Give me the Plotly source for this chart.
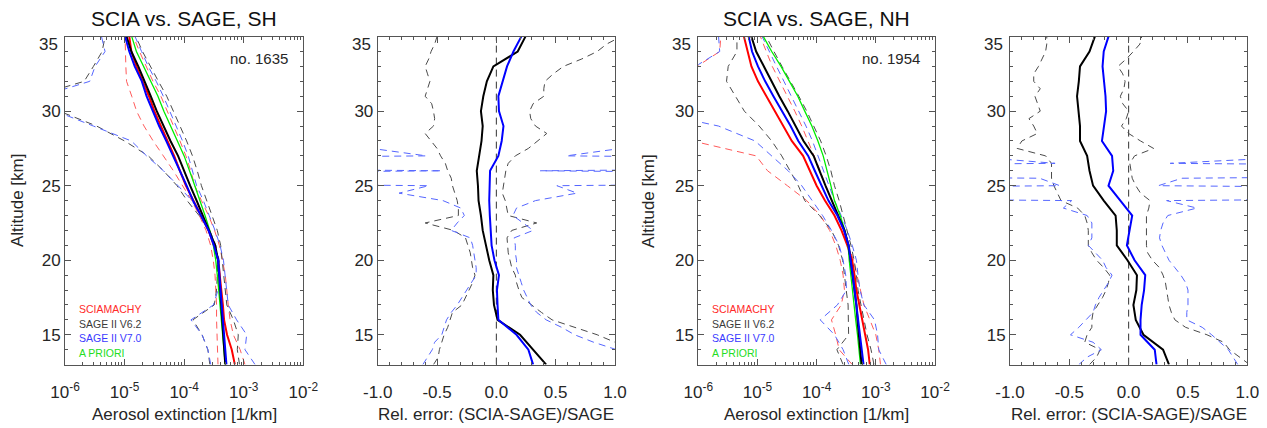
import plotly.graph_objects as go

# altitude grids [km]
ALT = [13, 14, 15, 16, 17, 18, 19, 20, 21, 22, 23, 24, 25, 26, 27, 28, 29, 30, 31, 32, 33, 34, 35]
ALT_H = [13.0, 13.5, 14.0, 14.5, 15.0, 15.5, 16.0, 16.5, 17.0, 17.5, 18.0, 18.5, 19.0, 19.5,
         20.0, 20.5, 21.0, 21.5, 22.0, 22.5, 23.0, 23.5, 24.0, 24.5, 25.0, 25.5, 26.0, 26.5,
         27.0, 27.5, 28.0, 28.5, 29.0, 29.5, 30.0, 30.5, 31.0, 31.5, 32.0, 32.5, 33.0, 33.5,
         34.0, 34.5, 35.0]

# ---------------- SH, profile no.1635 (extinction, 1/km) ----------------
sh_scia = [7.1e-4, 6.3e-4, 5.25e-4, 4.68e-4, 4.47e-4, 4.2e-4, 3.98e-4, 3.72e-4, 3.16e-4, 2.57e-4, 1.91e-4, 1.41e-4,
           1.07e-4, 8.5e-5, 6.8e-5, 5.25e-5, 4.07e-5, 3.16e-5, 2.57e-5, 2.04e-5, 1.58e-5, 1.3e-5, 1.2e-5]
sh_scia_lo = [3.7e-4, 3.6e-4, 3.5e-4, 3.5e-4, 3.5e-4, 3.4e-4, 3.3e-4, 3.08e-4, 2.78e-4, 2.33e-4, 1.8e-4, 1.34e-4,
              9.4e-5, 6.6e-5, 4.47e-5, 3.02e-5, 2.12e-5, 1.59e-5, 1.32e-5, 1.08e-5, 1.05e-5, 1.03e-5, 1.02e-5]
sh_scia_hi = [1.05e-3, 8.7e-4, 6.7e-4, 5.9e-4, 5.5e-4, 5.2e-4, 4.9e-4, 4.4e-4, 3.9e-4, 3.24e-4, 2.57e-4, 1.95e-4,
              1.51e-4, 1.29e-4, 1.07e-4, 8.5e-5, 6.6e-5, 5.25e-5, 4.07e-5, 3.0e-5, 2.3e-5, 1.78e-5, 1.41e-5]
sh_v62 = [4.9e-4, 4.7e-4, 4.57e-4, 4.37e-4, 4.2e-4, 4.07e-4, 3.89e-4, 3.72e-4, 3.31e-4, 2.63e-4, 2.09e-4, 1.62e-4,
          1.26e-4, 1.0e-4, 7.9e-5, 5.9e-5, 4.47e-5, 3.47e-5, 2.75e-5, 2.19e-5, 1.7e-5, 1.3e-5, 1.08e-5]
sh_v62_lo = [2.7e-4, 2.5e-4, 2.0e-4, 1.4e-4, 3.2e-4, 3.5e-4, 3.6e-4, 3.7e-4, 3.4e-4, 2.7e-4, 1.78e-4, 1.12e-4,
             7.6e-5, 4.5e-5, 2.5e-5, 1.0e-5, 3.4e-6, 8e-7, 3e-7, 2.1e-6, 3.0e-6, 4.2e-6, 4.7e-6]
sh_v62_hi = [8.5e-4, 7.8e-4, 8.1e-4, 6.7e-4, 5.2e-4, 4.9e-4, 4.7e-4, 4.4e-4, 4.1e-4, 3.6e-4, 2.95e-4, 2.4e-4,
             1.95e-4, 1.66e-4, 1.38e-4, 1.1e-4, 8.5e-5, 6.6e-5, 5.1e-5, 3.7e-5, 2.75e-5, 2.0e-5, 1.55e-5]
sh_v70 = [5.13e-4, 4.9e-4, 4.68e-4, 4.47e-4, 4.27e-4, 4.17e-4, 3.98e-4, 3.72e-4, 3.16e-4, 2.57e-4, 1.91e-4, 1.41e-4,
          1.1e-4, 8.5e-5, 6.6e-5, 5.0e-5, 3.8e-5, 2.95e-5, 2.34e-5, 1.95e-5, 1.48e-5, 1.2e-5, 1.02e-5]
sh_v70_lo = [2.8e-4, 2.5e-4, 2.0e-4, 1.3e-4, 3.1e-4, 3.7e-4, 4.0e-4, 3.9e-4, 3.3e-4, 2.7e-4, 1.95e-4, 1.35e-4,
             7.9e-5, 4.5e-5, 2.34e-5, 1.3e-5, 3.0e-6, 7e-7, 4e-7, 2.6e-6, 3.2e-6, 4.7e-6, 4.1e-6]
sh_v70_hi = [1.55e-3, 1.05e-3, 1.12e-3, 7.6e-4, 5.5e-4, 5.2e-4, 4.9e-4, 4.57e-4, 4.0e-4, 3.3e-4, 2.63e-4, 2.1e-4,
             1.62e-4, 1.38e-4, 1.17e-4, 9.4e-5, 7.4e-5, 5.75e-5, 4.47e-5, 3.4e-5, 2.5e-5, 1.93e-5, 1.5e-5]
sh_apriori = [4.9e-4, 4.68e-4, 4.4e-4, 4.17e-4, 3.98e-4, 3.8e-4, 3.6e-4, 3.39e-4, 3.09e-4, 2.69e-4, 2.24e-4, 1.86e-4,
              1.51e-4, 1.23e-4, 1.0e-4, 7.7e-5, 5.9e-5, 4.57e-5, 3.63e-5, 2.75e-5, 2.04e-5, 1.58e-5, 1.32e-5]

# relative differences (SCIA-SAGE)/SAGE, SH
sh_rel_v62 = [0.42, 0.31, 0.20, 0.01, -0.02, -0.03, -0.025, -0.06, -0.09, -0.115, -0.13, -0.15,
              -0.155, -0.165, -0.145, -0.125, -0.115, -0.13, -0.11, -0.08, -0.025, 0.18, 0.245]
sh_rel_v70 = [0.31, 0.27, 0.17, 0.017, 0.01, 0.005, 0.022, -0.016, -0.04, -0.05, -0.055, -0.06,
              -0.058, -0.053, 0.017, 0.045, 0.06, 0.022, 0.017, 0.055, 0.09, 0.144, 0.21]
sh_rel_v62_lo = [-0.53, -0.49, -0.48, -0.46, -0.44, -0.41, -0.39, -0.37, -0.29, -0.26, -0.235, -0.20, -0.18, -0.20,
                 -0.21, -0.22, -0.24, -0.26, -0.36, -0.60, -0.32, -0.32, -0.33, -0.35, -0.37, -0.38, -0.41, -0.43,
                 -0.47, -0.50, -0.55, -0.60, -0.53, -0.52, -0.53, -0.545, -0.60, -0.58, -0.56, -0.58, -0.60, -0.57,
                 -0.55, -0.52, -0.50]
sh_rel_v62_hi = [1.30, 1.15, 1.08, 1.0, 0.85, 0.66, 0.47, 0.38, 0.30, 0.215, 0.19, 0.17, 0.16, 0.13,
                 0.115, 0.10, 0.095, 0.09, 0.13, 0.34, 0.10, 0.085, 0.075, 0.05, 0.06, 0.075, 0.08, 0.10,
                 0.16, 0.27, 0.35, 0.425, 0.33, 0.29, 0.28, 0.31, 0.40, 0.40, 0.41, 0.48, 0.565, 0.72,
                 0.85, 0.93, 1.05]
sh_rel_v70_lo = [-0.62, -0.58, -0.54, -0.52, -0.46, -0.44, -0.42, -0.38, -0.33, -0.29, -0.25, -0.21, -0.17, -0.17,
                 -0.18, -0.19, -0.20, -0.22, -0.38, -0.33, -0.27, -0.30, -0.45, -0.82, -0.57, -8.0, -0.46, -8.0,
                 -0.59, -1.05, -8.0, -8.0, -8.0, -8.0, -8.0, -8.0, -8.0, -8.0, -8.0, -8.0, -8.0, -8.0,
                 -8.0, -8.0, -8.0]
sh_rel_v70_hi = [1.40, 1.20, 1.02, 0.82, 0.66, 0.55, 0.42, 0.34, 0.29, 0.26, 0.23, 0.21, 0.19, 0.17,
                 0.17, 0.16, 0.16, 0.15, 0.31, 0.22, 0.14, 0.17, 0.33, 0.68, 0.51, 8.0, 0.37, 8.0,
                 0.59, 1.05, 8.0, 8.0, 8.0, 8.0, 8.0, 8.0, 8.0, 8.0, 8.0, 8.0, 8.0, 8.0,
                 8.0, 8.0, 8.0]

# ---------------- NH, profile no.1954 ----------------
nh_scia = [7.9e-4, 7.4e-4, 6.6e-4, 5.9e-4, 5.25e-4, 4.7e-4, 4.37e-4, 3.98e-4, 3.3e-4, 2.63e-4, 2.0e-4, 1.38e-4,
           1.0e-4, 7.8e-5, 5.9e-5, 3.8e-5, 2.75e-5, 2.0e-5, 1.41e-5, 1.02e-5, 7.9e-6, 6.9e-6, 5.9e-6]
nh_scia_lo = [4.0e-4, 2.4e-4, 2.1e-4, 1.78e-4, 2.6e-4, 2.95e-4, 2.8e-4, 2.5e-4, 2.1e-4, 1.66e-4, 1.15e-4, 6.8e-5,
              3.2e-5, 1.48e-5, 9.5e-6, 8e-7, 1e-8, 1e-8, 1e-8, 1e-8, 9.5e-7, 2.3e-6, 2.4e-6]
nh_scia_hi = [1.2e-3, 1.12e-3, 1.0e-3, 7.9e-4, 6.3e-4, 5.5e-4, 4.8e-4, 4.2e-4, 3.47e-4, 2.9e-4, 2.3e-4, 1.78e-4,
              1.41e-4, 1.15e-4, 9.1e-5, 7.2e-5, 5.6e-5, 4.27e-5, 3.16e-5, 2.4e-5, 1.78e-5, 1.41e-5, 1.12e-5]
nh_v62 = [5.75e-4, 5.4e-4, 5.1e-4, 4.9e-4, 4.7e-4, 4.37e-4, 4.07e-4, 3.8e-4, 3.47e-4, 2.95e-4, 2.29e-4, 1.78e-4,
          1.41e-4, 1.12e-4, 8.9e-5, 6.0e-5, 4.47e-5, 3.24e-5, 2.34e-5, 1.74e-5, 1.32e-5, 9.5e-6, 7.9e-6]
nh_v62_lo = [2.8e-4, 2.2e-4, 3.47e-4, 3.4e-4, 3.4e-4, 3.16e-4, 2.95e-4, 2.75e-4, 2.34e-4, 1.78e-4, 1.12e-4, 6.3e-5,
             4.9e-5, 3.55e-5, 2.57e-5, 1.74e-5, 1.07e-5, 6.0e-6, 4.2e-6, 3.0e-6, 3.2e-6, 4.5e-6, 4.5e-6]
nh_v62_hi = [9.3e-4, 8.3e-4, 7.1e-4, 6.3e-4, 5.5e-4, 5.0e-4, 4.7e-4, 4.3e-4, 3.8e-4, 3.3e-4, 2.8e-4, 2.4e-4,
             2.0e-4, 1.74e-4, 1.45e-4, 1.17e-4, 8.9e-5, 6.8e-5, 5.0e-5, 3.55e-5, 2.6e-5, 1.9e-5, 1.41e-5]
nh_v70 = [6.2e-4, 5.75e-4, 5.4e-4, 5.0e-4, 4.7e-4, 4.37e-4, 4.07e-4, 3.8e-4, 3.47e-4, 2.9e-4, 2.24e-4, 1.58e-4,
          1.2e-4, 9.3e-5, 7.2e-5, 4.9e-5, 3.63e-5, 2.57e-5, 1.86e-5, 1.35e-5, 1.02e-5, 8.1e-6, 7.1e-6]
nh_v70_lo = [3.5e-4, 2.8e-4, 2.0e-4, 1.15e-4, 2.24e-4, 3.2e-4, 3.1e-4, 2.8e-4, 2.4e-4, 1.78e-4, 1.26e-4, 8.5e-5,
             5.6e-5, 3.3e-5, 1.74e-5, 9.1e-6, 2.2e-6, 2e-7, 1e-8, 1e-8, 8.9e-7, 2.3e-6, 2.2e-6]
nh_v70_hi = [1.5e-3, 1.12e-3, 1.07e-3, 9.5e-4, 6.3e-4, 5.4e-4, 5.0e-4, 4.7e-4, 4.0e-4, 3.3e-4, 2.6e-4, 2.0e-4,
             1.62e-4, 1.32e-4, 1.07e-4, 8.5e-5, 6.6e-5, 5.0e-5, 3.8e-5, 2.8e-5, 2.1e-5, 1.58e-5, 1.2e-5]
nh_apriori = [5.5e-4, 5.25e-4, 4.9e-4, 4.57e-4, 4.27e-4, 3.98e-4, 3.7e-4, 3.55e-4, 3.4e-4, 3.0e-4, 2.5e-4, 2.0e-4,
              1.74e-4, 1.51e-4, 1.29e-4, 1.05e-4, 8.3e-5, 6.3e-5, 4.8e-5, 3.47e-5, 2.5e-5, 1.74e-5, 1.26e-5]

nh_rel_v62 = [0.34, 0.29, 0.125, 0.06, 0.04, 0.065, 0.07, -0.01, -0.10, -0.10, -0.11, -0.21,
              -0.30, -0.33, -0.35, -0.41, -0.41, -0.42, -0.435, -0.42, -0.41, -0.33, -0.285]
nh_rel_v70 = [0.235, 0.22, 0.10, 0.10, 0.11, 0.13, 0.14, 0.05, -0.015, 0.01, 0.03, -0.07,
              -0.17, -0.13, -0.14, -0.225, -0.21, -0.19, -0.195, -0.21, -0.22, -0.21, -0.17]
nh_rel_v62_lo = [-0.33, -0.27, -0.24, -0.37, -0.35, -0.31, -0.31, -0.30, -0.26, -0.22, -0.19, -0.17, -0.16, -0.21,
                 -0.27, -0.31, -0.34, -0.34, -0.34, -0.35, -0.37, -0.43, -0.57, -0.60, -0.63, -0.65, -0.65, -0.65,
                 -0.70, -0.94, -0.90, -0.77, -0.80, -0.84, -0.745, -0.77, -0.79, -0.745, -0.80, -0.80, -0.76, -0.73,
                 -0.70, -0.69, -0.69]
nh_rel_v62_hi = [1.02, 0.93, 0.85, 0.80, 0.66, 0.48, 0.39, 0.36, 0.34, 0.33, 0.32, 0.31, 0.29, 0.26,
                 0.20, 0.16, 0.15, 0.15, 0.15, 0.15, 0.15, 0.17, 0.18, 0.10, 0.06, 0.03, 0.02, 0.01,
                 0.05, 0.21, 0.10, 0.0, -0.06, -0.02, 0.0, -0.05, -0.07, -0.04, -0.03, -0.05, -0.09, -0.02,
                 0.04, 0.095, 0.11]
nh_rel_v70_lo = [-0.42, -0.35, -0.23, -0.30, -0.49, -0.42, -0.36, -0.30, -0.28, -0.25, -0.21, -0.17, -0.14, -0.19,
                 -0.22, -0.28, -0.34, -0.31, -0.31, -0.31, -0.35, -0.55, -0.48, -8.0, -0.58, -0.75, -8.0, -0.62,
                 -1.4, -8.0, -8.0, -8.0, -8.0, -8.0, -8.0, -8.0, -8.0, -8.0, -8.0, -8.0, -8.0, -8.0,
                 -8.0, -8.0, -8.0]
nh_rel_v70_hi = [0.92, 0.88, 0.84, 0.77, 0.70, 0.62, 0.49, 0.49, 0.50, 0.50, 0.50, 0.48, 0.44, 0.39,
                 0.34, 0.31, 0.28, 0.26, 0.27, 0.29, 0.33, 0.575, 0.32, 8.0, 0.25, 0.45, 8.0, 0.35,
                 1.6, 8.0, 8.0, 8.0, 8.0, 8.0, 8.0, 8.0, 8.0, 8.0, 8.0, 8.0, 8.0, 8.0,
                 8.0, 8.0, 8.0]

LOG_TICKS = [1e-6, 1e-5, 1e-4, 1e-3, 1e-2]
LOG_LABELS = ["10<sup>-6</sup>", "10<sup>-5</sup>", "10<sup>-4</sup>", "10<sup>-3</sup>", "10<sup>-2</sup>"]
REL_TICKS = [-1.0, -0.5, 0.0, 0.5, 1.0]
REL_LABELS = ["-1.0", "-0.5", "0.0", "0.5", "1.0"]
LEGEND = ["SCIAMACHY", "SAGE II V6.2", "SAGE II V7.0", "A PRIORI"]

FONT = "Liberation Sans, Arial, Helvetica, sans-serif"
TXT = "#262626"
AX = "#555555"

# the page body adds an 8px margin, so the figure is drawn 8px smaller and
# all layout positions below are given in window pixels minus that offset
OFF = 8
W, H = 1267 - OFF, 428 - OFF

RED, BLACK, BLUE, GREEN = "#ff0000", "#000000", "#0000ff", "#00ee00"
RED_D, BLACK_D, BLUE_D = "#ff5a5a", "#4a4a4a", "#5566ff"
DASH = "7px,5px"

# panel frames in window pixels (left, right); common top/bottom
PX = [(65, 303.3), (377.7, 615), (698.3, 935), (1010, 1247.3)]
TOP, BOT = 36.6, 364.6


def fx(px):
    return (px - OFF) / W


def fy(py):
    return 1 - (py - OFF) / H


fig = go.Figure()


def line(x, y, color, ax, width=2.0, dash=None):
    fig.add_trace(go.Scatter(
        x=x, y=y, mode="lines", xaxis="x" + ax, yaxis="y" + ax,
        line=dict(color=color, width=width, dash=dash), showlegend=False, hoverinfo="skip"))


# extinction panels
for ax, d in [("", dict(scia=sh_scia, slo=sh_scia_lo, shi=sh_scia_hi, v62=sh_v62, v62lo=sh_v62_lo, v62hi=sh_v62_hi,
                        v70=sh_v70, v70lo=sh_v70_lo, v70hi=sh_v70_hi, apr=sh_apriori)),
              ("3", dict(scia=nh_scia, slo=nh_scia_lo, shi=nh_scia_hi, v62=nh_v62, v62lo=nh_v62_lo, v62hi=nh_v62_hi,
                         v70=nh_v70, v70lo=nh_v70_lo, v70hi=nh_v70_hi, apr=nh_apriori))]:
    for k, c in [("slo", RED_D), ("shi", RED_D), ("v62lo", BLACK_D), ("v62hi", BLACK_D),
                 ("v70lo", BLUE_D), ("v70hi", BLUE_D)]:
        line(d[k], ALT, c, ax, width=1.0, dash=DASH)
    line(d["scia"], ALT, RED, ax)
    line(d["apr"], ALT, GREEN, ax, width=1.3)
    line(d["v62"], ALT, BLACK, ax)
    line(d["v70"], ALT, BLUE, ax)

# relative difference panels
for ax, v62, v70, v62lo, v62hi, v70lo, v70hi in [
        ("2", sh_rel_v62, sh_rel_v70, sh_rel_v62_lo, sh_rel_v62_hi, sh_rel_v70_lo, sh_rel_v70_hi),
        ("4", nh_rel_v62, nh_rel_v70, nh_rel_v62_lo, nh_rel_v62_hi, nh_rel_v70_lo, nh_rel_v70_hi)]:
    line([0, 0], [13, 35], "#333333", ax, width=1.0, dash=DASH)
    for arr, c in [(v62lo, BLACK_D), (v62hi, BLACK_D), (v70lo, BLUE_D), (v70hi, BLUE_D)]:
        line(arr, ALT_H, c, ax, width=1.0, dash=DASH)
    line(v62, ALT, BLACK, ax)
    line(v70, ALT, BLUE, ax)

MINOR_LOG = [m * 10.0 ** e for e in (-6, -5, -4, -3) for m in range(2, 10)]

common = dict(showline=True, linecolor=AX, linewidth=1, mirror="allticks", ticks="inside",
              tickcolor=AX, showgrid=False, zeroline=False, automargin=False,
              tickfont=dict(family=FONT, size=17, color=TXT))

layout = dict(width=W, height=H, margin=dict(l=0, r=0, t=0, b=0, pad=0), autosize=False,
              paper_bgcolor="white", plot_bgcolor="white", showlegend=False,
              font=dict(family=FONT, color=TXT))

for i in range(4):
    n = "" if i == 0 else str(i + 1)
    dom = [fx(PX[i][0]), fx(PX[i][1])]
    if i in (0, 2):
        xa = dict(common, domain=dom, type="log", range=[-6, -2], tickmode="array",
                  tickvals=LOG_TICKS, ticktext=LOG_LABELS, ticklen=6, anchor="y" + n,
                  ticklabelstandoff=12,
                  minor=dict(ticks="inside", ticklen=3, tickcolor=AX, tickmode="array", tickvals=MINOR_LOG))
    else:
        xa = dict(common, domain=dom, range=[-1, 1], tickmode="array",
                  tickvals=REL_TICKS, ticktext=REL_LABELS, ticklen=6, anchor="y" + n,
                  ticklabelstandoff=12,
                  minor=dict(ticks="inside", ticklen=3, tickcolor=AX, dtick=0.1))
    ya = dict(common, domain=[fy(BOT), fy(TOP)], range=[13, 35], tickmode="array",
              tickvals=[15, 20, 25, 30, 35], ticktext=["15", "20", "25", "30", ""], ticklen=6,
              anchor="x" + n, minor=dict(ticks="inside", ticklen=3, tickcolor=AX, dtick=1))
    layout["xaxis" + n] = xa
    layout["yaxis" + n] = ya

fig.update_layout(**layout)

ann = []
for i in range(4):
    n = "" if i == 0 else str(i + 1)
    ann.append(dict(text="35", x=fx(PX[i][0]), xref="paper", y=34.44, yref="y" + n,
                    xanchor="right", yanchor="middle", xshift=-5, showarrow=False,
                    font=dict(size=17, color=TXT)))

cx = [(a + b) / 2 for a, b in PX]
for i, t in [(0, "SCIA vs. SAGE, SH"), (2, "SCIA vs. SAGE, NH")]:
    ann.append(dict(text=t, x=fx(cx[i]), xref="paper", y=fy(18), yref="paper", xanchor="center",
                    yanchor="middle", showarrow=False, font=dict(size=21, color="#111111")))
for i, t in [(0, "Aerosol extinction [1/km]"), (1, "Rel. error: (SCIA-SAGE)/SAGE"),
             (2, "Aerosol extinction [1/km]"), (3, "Rel. error: (SCIA-SAGE)/SAGE")]:
    ann.append(dict(text=t, x=fx(cx[i]), xref="paper", y=fy(414), yref="paper", xanchor="center",
                    yanchor="middle", showarrow=False, font=dict(size=17, color=TXT)))
for xc in (17.5, 648.3):
    ann.append(dict(text="Altitude [km]", x=fx(xc), xref="paper", y=fy(200.6), yref="paper",
                    xanchor="center", yanchor="middle", textangle=-90, showarrow=False,
                    font=dict(size=17, color=TXT)))
for i, t in [(0, "no. 1635"), (2, "no. 1954")]:
    ann.append(dict(text=t, x=fx(PX[i][1] - 13), xref="paper", y=fy(58), yref="paper",
                    xanchor="right", yanchor="middle", showarrow=False, font=dict(size=15, color=TXT)))
leg_cols = ["#ff2a2a", "#3a3a3a", "#3a3aff", "#22dd22"]
for i in (0, 2):
    for k, (t, c) in enumerate(zip(LEGEND, leg_cols)):
        ann.append(dict(text=t, x=fx(PX[i][0] + 12), xref="paper", y=fy(309 + 14.7 * k),
                        yref="paper", xanchor="left", yanchor="middle", showarrow=False,
                        font=dict(size=10.5, color=c)))

fig.update_layout(annotations=ann)
fig.write_html("out.html")
